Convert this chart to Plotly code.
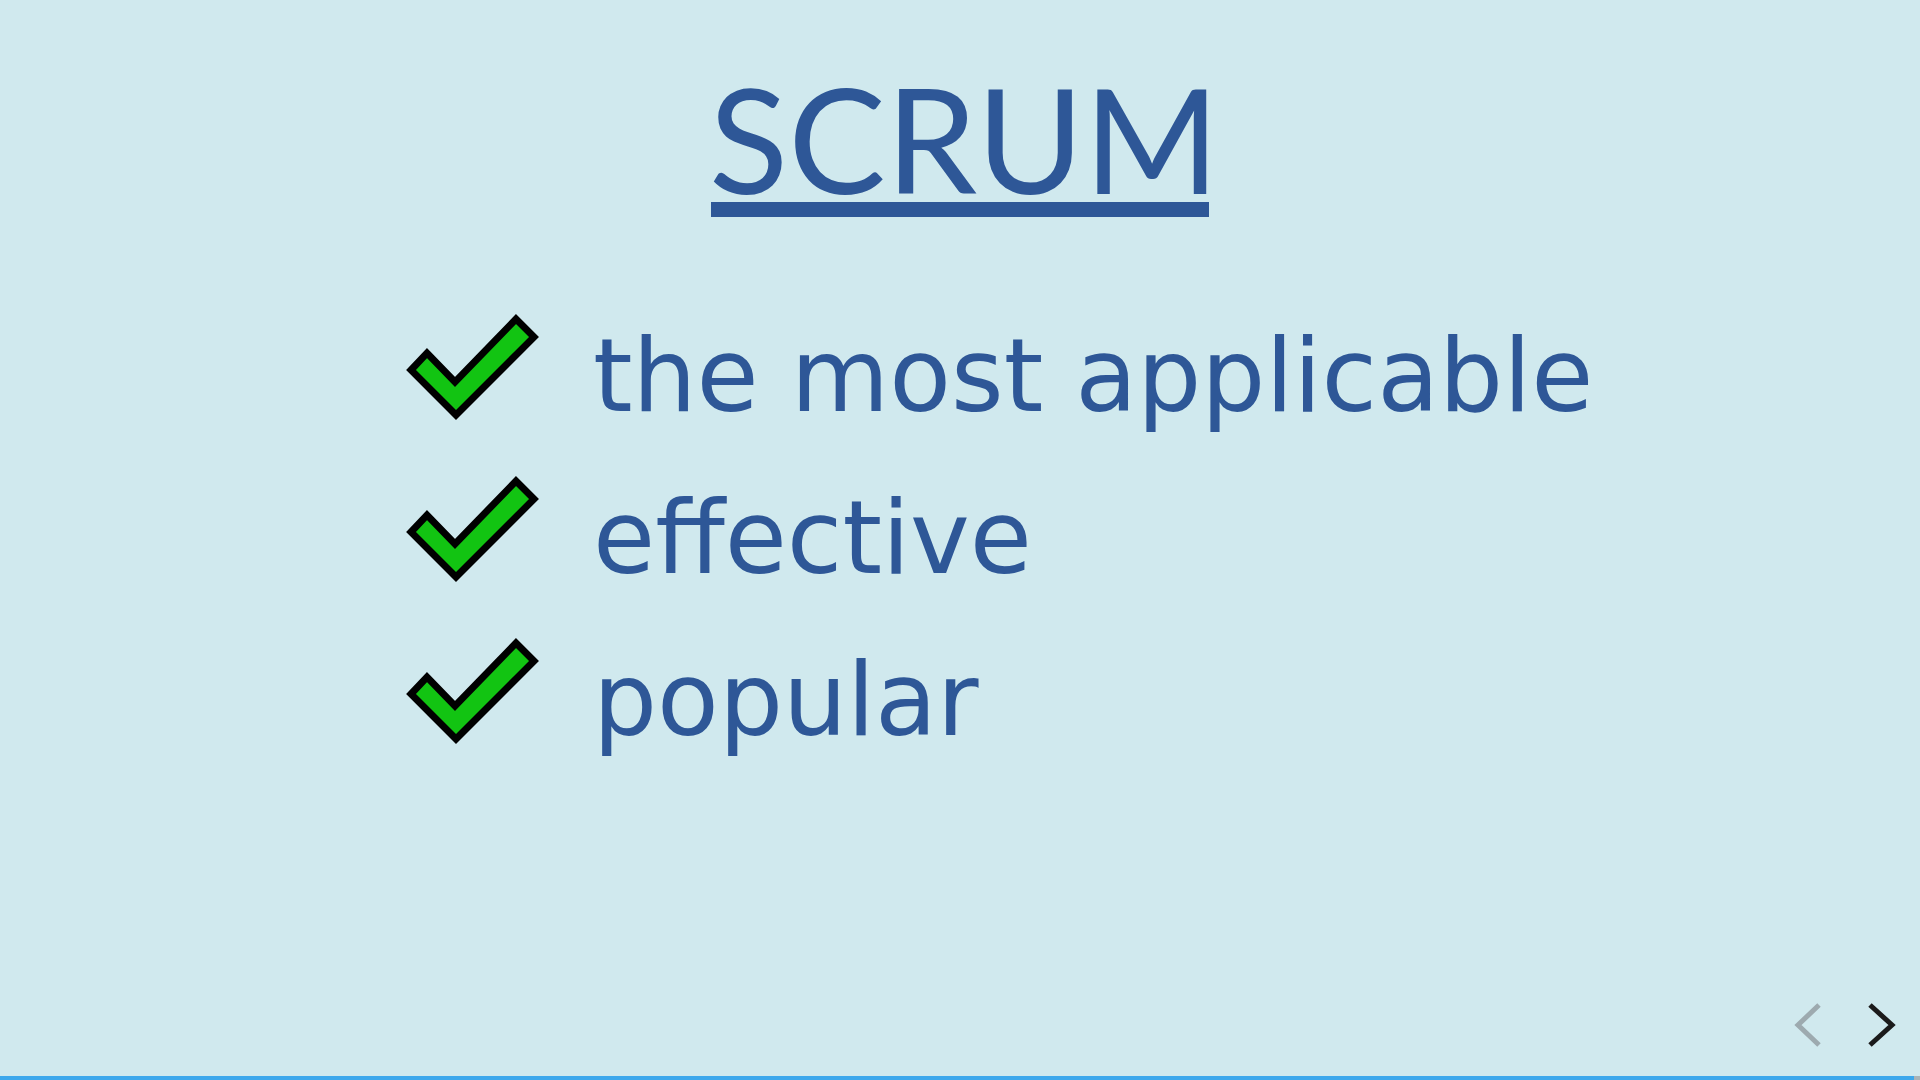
import plotly.graph_objects as go

# slide content
TITLE = "SCRUM"
ITEMS = ["the most applicable", "effective", "popular"]

BG = "#D0E9EE"
TEXT_COLOR = "#2E5797"
CHECK_GREEN = "#12C412"

# check glyph outline, relative to the centre of one check
# (starts mid-edge so the closing join is not visible)
CHECK_DX = [-38.5, -61, -45, -17, 44, 62, -16, -38.5]
CHECK_DY = [25.5, 3, -14, 15, -48, -30, 48, 25.5]

W, H = 1920, 1080
CHECK_X = 472
ROW_Y0 = 367
ROW_STEP = 162
TEXT_X = 591

fig = go.Figure()

for i, item in enumerate(ITEMS):
    cy = ROW_Y0 + i * ROW_STEP
    fig.add_trace(go.Scatter(
        x=[CHECK_X + dx for dx in CHECK_DX],
        y=[cy + dy for dy in CHECK_DY],
        mode="lines",
        fill="toself",
        fillcolor=CHECK_GREEN,
        line=dict(color="black", width=7),
        hoverinfo="skip",
        showlegend=False,
    ))
    fig.add_annotation(
        x=TEXT_X, y=cy + 9, xref="x", yref="y",
        text=item, showarrow=False,
        xanchor="left", yanchor="middle",
        font=dict(family="DejaVu Sans", size=101, color=TEXT_COLOR),
    )

# title + underline
fig.add_annotation(
    x=964, y=137, xref="x", yref="y",
    text=TITLE, showarrow=False,
    xanchor="center", yanchor="middle",
    font=dict(family="Lato", size=146, color=TEXT_COLOR),
)
fig.add_shape(type="rect", x0=711, x1=1209, y0=202, y1=217,
              xref="x", yref="y", fillcolor=TEXT_COLOR, line_width=0)

# navigation arrows
fig.add_trace(go.Scatter(x=[1819, 1798, 1819], y=[1005, 1025, 1045], mode="lines",
                         line=dict(color="#9DAAAF", width=5), hoverinfo="skip", showlegend=False))
fig.add_trace(go.Scatter(x=[1870, 1892, 1870], y=[1005, 1025, 1045], mode="lines",
                         line=dict(color="#1B1B1B", width=5), hoverinfo="skip", showlegend=False))

# progress bar
fig.add_shape(type="rect", x0=0, x1=1914, y0=1076, y1=1080, xref="x", yref="y",
              fillcolor="#3DA8EC", line_width=0)
fig.add_shape(type="rect", x0=1914, x1=1920, y0=1076, y1=1080, xref="x", yref="y",
              fillcolor="#A9B4B8", line_width=0)

fig.update_xaxes(range=[0, W], visible=False, fixedrange=True)
fig.update_yaxes(range=[H, 0], visible=False, fixedrange=True)
fig.update_layout(
    width=W, height=H,
    margin=dict(l=0, r=0, t=0, b=0),
    paper_bgcolor=BG, plot_bgcolor=BG,
)

fig.write_html("out.html", config={"displayModeBar": False},
               post_script="document.body.style.margin='0';document.body.style.overflow='hidden';")
